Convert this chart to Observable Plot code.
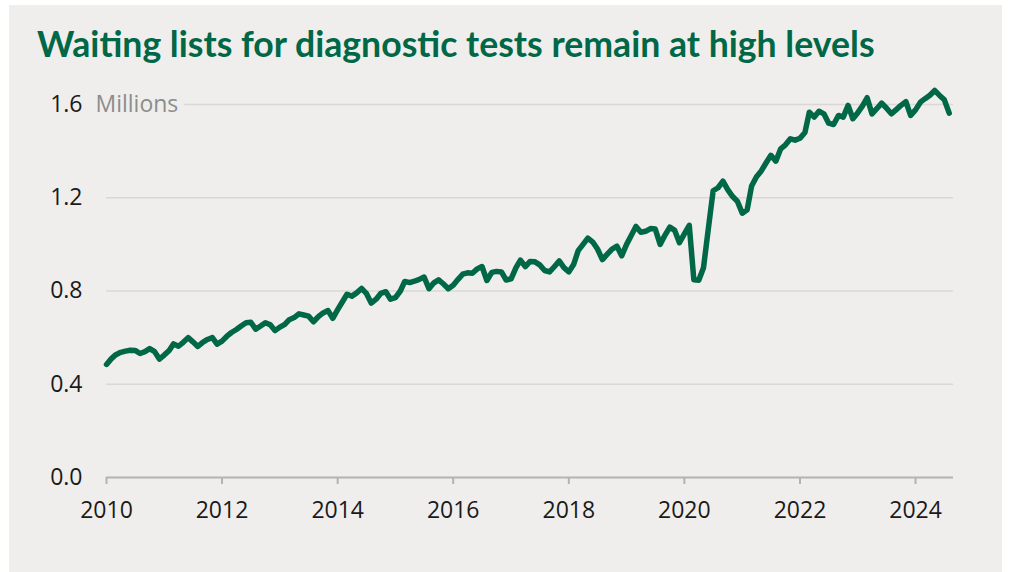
<!DOCTYPE html>
<html>
<head>
<meta charset="utf-8">
<script src="https://cdn.jsdelivr.net/npm/d3@7"></script>
<script src="https://cdn.jsdelivr.net/npm/@observablehq/plot@0.6"></script>
<style>
  html, body { margin: 0; padding: 0; background: #ffffff; width: 1009px; height: 572px; overflow: hidden; }
  #panel { position: absolute; left: 9px; top: 5px; width: 993px; height: 567px; background: #efeeec; }
  #titlebox { position: absolute; left: 0; top: 0; }
  #chart { position: absolute; left: 0; top: 80px; }
</style>
</head>
<body>
<div id="panel"></div>
<svg id="titlebox" width="1009" height="80">
  <text id="title" x="37" y="57" font-family="Lato" font-weight="700" font-size="30" fill="#006747">Waiting lists for diagnostic tests remain at high levels</text>
</svg>
<div id="chart"></div>
<script>
// Monthly waiting list (millions), January of each year onward
const v2010 = [0.485, 0.51, 0.527, 0.537, 0.542, 0.546, 0.545, 0.532, 0.54, 0.553, 0.54, 0.508];
const v2011 = [0.525, 0.545, 0.573, 0.563, 0.58, 0.60, 0.582, 0.562, 0.58, 0.592, 0.60, 0.572];
const v2012 = [0.585, 0.606, 0.622, 0.635, 0.65, 0.664, 0.666, 0.636, 0.65, 0.664, 0.655, 0.63];
const v2013 = [0.645, 0.657, 0.677, 0.686, 0.702, 0.697, 0.692, 0.668, 0.69, 0.706, 0.716, 0.683];
const v2014 = [0.72, 0.755, 0.786, 0.778, 0.792, 0.811, 0.79, 0.748, 0.765, 0.79, 0.797, 0.765];
const v2015 = [0.772, 0.80, 0.841, 0.836, 0.842, 0.85, 0.86, 0.81, 0.835, 0.848, 0.83, 0.81];
const v2016 = [0.825, 0.85, 0.872, 0.878, 0.876, 0.895, 0.905, 0.845, 0.88, 0.884, 0.882, 0.847];
const v2017 = [0.852, 0.90, 0.932, 0.905, 0.927, 0.925, 0.912, 0.888, 0.882, 0.904, 0.929, 0.90];
const v2018 = [0.882, 0.915, 0.973, 1.0, 1.027, 1.01, 0.98, 0.935, 0.958, 0.98, 0.992, 0.951];
const v2019 = [1.0, 1.04, 1.077, 1.052, 1.056, 1.068, 1.066, 1.0, 1.04, 1.074, 1.06, 1.007];
const v2020 = [1.045, 1.082, 0.848, 0.846, 0.9, 1.07, 1.23, 1.243, 1.271, 1.235, 1.205, 1.185];
const v2021 = [1.134, 1.149, 1.25, 1.29, 1.315, 1.35, 1.382, 1.357, 1.41, 1.427, 1.453, 1.447];
const v2022 = [1.455, 1.48, 1.567, 1.546, 1.571, 1.56, 1.52, 1.514, 1.553, 1.546, 1.596, 1.539];
const v2023 = [1.565, 1.595, 1.629, 1.56, 1.582, 1.606, 1.585, 1.56, 1.578, 1.596, 1.612, 1.553];
const v2024 = [1.577, 1.61, 1.625, 1.64, 1.66, 1.639, 1.62, 1.563];

const firstYear = 2010;
const xTickYears = [2010, 2012, 2014, 2016, 2018, 2020, 2022, 2024];
const yTicks = [0.0, 0.4, 0.8, 1.2, 1.6];
const unitLabel = "Millions";
const xEnd = new Date(Date.UTC(2024, 7, 28));

const values = [].concat(v2010, v2011, v2012, v2013, v2014, v2015, v2016, v2017,
                         v2018, v2019, v2020, v2021, v2022, v2023, v2024);
const data = values.map((v, i) => ({ date: new Date(Date.UTC(firstYear, i, 1)), value: v }));
const xStart = data[0].date;
const xTicks = xTickYears.map(y => new Date(Date.UTC(y, 0, 1)));

const green = "#006747";
const panelBg = "#efeeec";

const chart = Plot.plot({
  width: 1009,
  height: 492,
  marginLeft: 106,
  marginRight: 56,
  marginTop: 24,
  marginBottom: 95,
  style: { background: "transparent", fontFamily: "'Open Sans'", fontSize: "23px", color: "#1a1a1a" },
  x: { type: "utc", domain: [xStart, xEnd] },
  y: { domain: [0, 1.6] },
  marks: [
    Plot.ruleY(yTicks.filter(d => d > 0), { stroke: "#d9d8d5", strokeWidth: 1.6 }),
    Plot.axisY(yTicks, { tickSize: 0, tickPadding: 24, tickFormat: d => d.toFixed(1), fill: "#1a1a1a", label: null }),
    Plot.text([unitLabel], {
      x: () => xStart, y: () => yTicks[yTicks.length - 1], text: d => d,
      textAnchor: "start", dx: -11, fill: "#8c8c8c",
      stroke: panelBg, strokeWidth: 15, fontSize: 23
    }),
    Plot.ruleY([0], { stroke: "#b3b3b3", strokeWidth: 2 }),
    Plot.axisX(xTicks, { tickSize: 7, tickPadding: 17, tickFormat: d3.utcFormat("%Y"),
      stroke: "#b3b3b3", strokeWidth: 2, fill: "#1a1a1a", label: null }),
    Plot.line(data, { x: "date", y: "value", stroke: green, strokeWidth: 5.5,
      strokeLinejoin: "round", strokeLinecap: "round" })
  ]
});
document.getElementById("chart").appendChild(chart);

// fit title width to the reference layout
const t = document.getElementById("title");
const len = t.getComputedTextLength();
if (len > 0) t.setAttribute("font-size", (30 * 838 / len).toFixed(2));
</script>
</body>
</html>
